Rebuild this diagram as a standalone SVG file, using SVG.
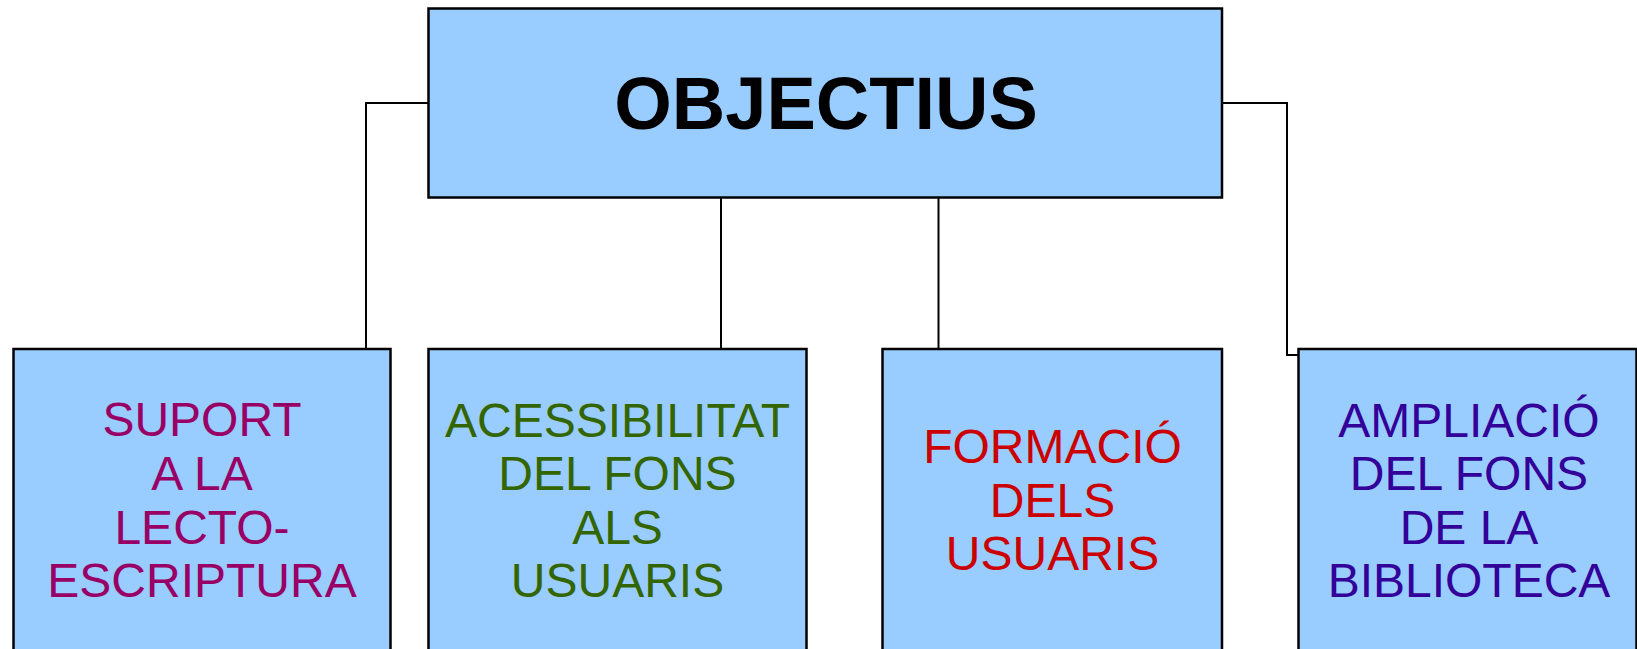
<svg xmlns="http://www.w3.org/2000/svg" width="1637" height="649" viewBox="0 0 1637 649">
<style>
.box{fill:#99ccff;stroke:#000;stroke-width:2.5}
.conn{fill:none;stroke:#000;stroke-width:2}
.t{font-family:"Liberation Sans",Arial,sans-serif;font-size:48px;text-anchor:middle}
.title{font-family:"Liberation Sans",Arial,sans-serif;font-size:74px;font-weight:bold;text-anchor:middle;fill:#000}
</style>
<rect width="1637" height="649" fill="#fff"/>
<g id="connectors">
<polyline class="conn" points="428,103 366,103 366,349"/>
<line class="conn" x1="721" y1="197" x2="721" y2="349"/>
<line class="conn" x1="938.5" y1="197" x2="938.5" y2="349"/>
<polyline class="conn" points="1222,103 1287,103 1287,355 1298,355"/>
</g>
<g id="objectius">
<rect class="box" x="428.5" y="8.5" width="793.5" height="189"/>
<text class="title" x="826" y="129">OBJECTIUS</text>
</g>
<g id="suport">
<rect class="box" x="13.5" y="349" width="377" height="320"/>
<text class="t" fill="#990066"><tspan x="202" y="436">SUPORT</tspan><tspan x="202" y="490">A LA</tspan><tspan x="202" y="543.5">LECTO-</tspan><tspan x="202" y="597">ESCRIPTURA</tspan></text>
</g>
<g id="acessibilitat">
<rect class="box" x="428.5" y="349" width="378" height="320"/>
<text class="t" fill="#336600"><tspan x="617.5" y="436.5">ACESSIBILITAT</tspan><tspan x="617.5" y="489.5">DEL FONS</tspan><tspan x="617.5" y="543.5">ALS</tspan><tspan x="617.5" y="597">USUARIS</tspan></text>
</g>
<g id="formacio">
<rect class="box" x="882.5" y="349" width="339.5" height="320"/>
<text class="t" fill="#cc0000"><tspan x="1052.5" y="463">FORMACIÓ</tspan><tspan x="1052.5" y="516.5">DELS</tspan><tspan x="1052.5" y="570">USUARIS</tspan></text>
</g>
<g id="ampliacio">
<rect class="box" x="1298.5" y="349" width="338" height="320"/>
<text class="t" fill="#330099"><tspan x="1469" y="436.5">AMPLIACIÓ</tspan><tspan x="1469" y="489.5">DEL FONS</tspan><tspan x="1469" y="543.5">DE LA</tspan><tspan x="1469" y="597">BIBLIOTECA</tspan></text>
</g>
</svg>
